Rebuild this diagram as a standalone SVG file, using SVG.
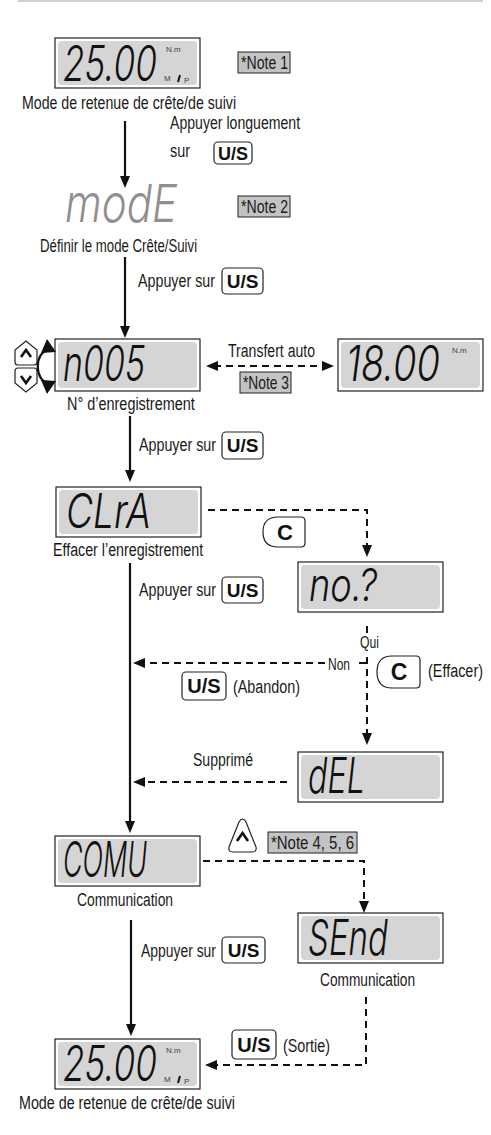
<svg xmlns="http://www.w3.org/2000/svg" width="491" height="1135" viewBox="0 0 491 1135">
<defs>
<style>
.lbl{font-family:"Liberation Sans Narrow","Liberation Sans",Arial,sans-serif;font-size:19px;fill:#1a1a1a}
.sm{font-size:17px}
.lcdo{fill:#fff;stroke:#222;stroke-width:1.2}
.lcdi{fill:#d5d5d5;stroke:none}
.seg{font-family:Inter,"Liberation Sans",Arial,sans-serif;font-style:italic;font-weight:300;fill:#111}
.small{font-family:"Liberation Sans",Arial,sans-serif;font-size:8px;fill:#444}
.note{fill:#c3c3c3;stroke:#222;stroke-width:1}
.btn{fill:#fff;stroke:#222;stroke-width:1.2}
.btxt{font-family:"Liberation Sans",Arial,sans-serif;font-weight:bold;fill:#111;text-anchor:middle}
.solid{fill:none;stroke:#111;stroke-width:2.2}
.dash{fill:none;stroke:#111;stroke-width:2;stroke-dasharray:7 5}
.chev{fill:none;stroke:#111;stroke-width:2.6;stroke-linejoin:miter}
</style>
<marker id="ah" viewBox="0 0 12 10" refX="4" refY="5" markerWidth="12" markerHeight="10" markerUnits="userSpaceOnUse" orient="auto-start-reverse">
<path d="M0,0 L12,5 L0,10 Z" fill="#111"/>
</marker>
</defs>

<line x1="18" y1="1" x2="483" y2="1" stroke="#cfcfcf" stroke-width="2"/>

<!-- Node 1: peak hold display -->
<g id="n-peak1">
<rect class="lcdo" x="55" y="38" width="145" height="50"/>
<rect class="lcdi" x="58" y="41" width="139" height="44" rx="4"/>
<text class="seg" transform="translate(63,81) scale(1,1.42)" font-size="35" textLength="94" lengthAdjust="spacingAndGlyphs">25.00</text>
<text class="small" x="166" y="52">N.m</text>
<text class="small" x="164" y="81" font-size="7">M</text>
<line x1="178" y1="82" x2="180" y2="75" stroke="#111" stroke-width="2"/>
<text class="small" x="184" y="83">P</text>
<text class="lbl" transform="translate(22,109) scale(0.77,1)" textLength="278" lengthAdjust="spacingAndGlyphs">Mode de retenue de crête/de suivi</text>
</g>
<g id="note1">
<rect class="note" x="238" y="52" width="52" height="21"/>
<text class="lbl" transform="translate(241,69) scale(0.77,1)" textLength="61" lengthAdjust="spacingAndGlyphs">*Note 1</text>
</g>

<!-- Node 2: modE -->
<g id="n-mode">
<text class="seg" transform="translate(65,222) scale(1,1.25)" font-size="42" style="fill:#8f8f8f" textLength="112" lengthAdjust="spacingAndGlyphs">modE</text>
<text class="lbl" transform="translate(40,252) scale(0.77,1)" textLength="204" lengthAdjust="spacingAndGlyphs">Définir le mode Crête/Suivi</text>
</g>
<g id="note2">
<rect class="note" x="238" y="196" width="52" height="21"/>
<text class="lbl" transform="translate(241,213) scale(0.77,1)" textLength="61" lengthAdjust="spacingAndGlyphs">*Note 2</text>
</g>

<!-- Node 3: record number -->
<g id="n-rec">
<rect class="lcdo" x="55" y="339" width="145" height="52"/>
<rect class="lcdi" x="58" y="342" width="139" height="46" rx="4"/>
<text class="seg" transform="translate(63,381) scale(1,1.42)" font-size="35" textLength="82" lengthAdjust="spacingAndGlyphs">n005</text>
<text class="lbl" transform="translate(67,410) scale(0.77,1)" textLength="166" lengthAdjust="spacingAndGlyphs">N° d’enregistrement</text>
</g>
<g id="updown">
<path class="btn" d="M18,365 H34 Q37,365 37,362 V350 L26,341 L15,350 V362 Q15,365 18,365 Z"/>
<polyline class="chev" points="21,357 26,350 31,357"/>
<path class="btn" d="M18,368 H34 Q37,368 37,371 V383 L26,392 L15,383 V371 Q15,368 18,368 Z"/>
<polyline class="chev" points="21,376 26,383 31,376"/>
<path d="M49,350 C34,351 34,382 49,383" fill="none" stroke="#111" stroke-width="2.2"/>
<polygon points="47,339 56,352 41,353" fill="#111"/>
<polygon points="47,394 56,381 41,380" fill="#111"/>
</g>
<g id="n-value">
<rect class="lcdo" x="338" y="339" width="145" height="52"/>
<rect class="lcdi" x="341" y="342" width="139" height="46" rx="4"/>
<text class="seg" transform="translate(346,381) scale(1,1.42)" font-size="35" textLength="94" lengthAdjust="spacingAndGlyphs">18.00</text>
<text class="small" x="452" y="353">N.m</text>
</g>
<g id="note3">
<rect class="note" x="240" y="372" width="51" height="21"/>
<text class="lbl" transform="translate(243,389) scale(0.77,1)" textLength="59.7" lengthAdjust="spacingAndGlyphs">*Note 3</text>
</g>

<!-- Node 4: CLrA -->
<g id="n-clra">
<rect class="lcdo" x="56" y="487" width="145" height="50"/>
<rect class="lcdi" x="59" y="490" width="139" height="44" rx="4"/>
<text class="seg" transform="translate(66,528) scale(1,1.375)" font-size="35" textLength="85" lengthAdjust="spacingAndGlyphs">CLrA</text>
<text class="lbl" transform="translate(53,556) scale(0.77,1)" textLength="195" lengthAdjust="spacingAndGlyphs">Effacer l’enregistrement</text>
</g>

<!-- Node 5: no.? -->
<g id="n-no">
<rect class="lcdo" x="298" y="562" width="145" height="50"/>
<rect class="lcdi" x="301" y="565" width="139" height="44" rx="4"/>
<text class="seg" transform="translate(309,601) scale(1,1.3)" font-size="35" textLength="68" lengthAdjust="spacingAndGlyphs">no.?</text>
</g>

<!-- Node 6: dEL -->
<g id="n-del">
<rect class="lcdo" x="298" y="752" width="145" height="50"/>
<rect class="lcdi" x="301" y="755" width="139" height="44" rx="4"/>
<text class="seg" transform="translate(308,793) scale(1,1.4)" font-size="35" textLength="57" lengthAdjust="spacingAndGlyphs">dEL</text>
</g>

<!-- Node 7: COMU -->
<g id="n-comu">
<rect class="lcdo" x="55" y="836" width="145" height="50"/>
<rect class="lcdi" x="58" y="839" width="139" height="44" rx="4"/>
<text class="seg" transform="translate(63,877) scale(1,1.42)" font-size="35" textLength="84" lengthAdjust="spacingAndGlyphs">COMU</text>
<text class="lbl" transform="translate(77,906) scale(0.77,1)" textLength="124.7" lengthAdjust="spacingAndGlyphs">Communication</text>
</g>
<g id="up-btn">
<path class="btn" d="M233,852 H252 Q257,852 256,847 L246,822 Q242.5,816 239,822 L229,847 Q228,852 233,852 Z"/>
<polyline class="chev" points="237,841 242.5,833 248,841"/>
</g>
<g id="note456">
<rect class="note" x="268" y="832" width="89" height="21"/>
<text class="lbl" transform="translate(271,849) scale(0.77,1)" textLength="107.8" lengthAdjust="spacingAndGlyphs">*Note 4, 5, 6</text>
</g>

<!-- Node 8: SEnd -->
<g id="n-send">
<rect class="lcdo" x="298" y="913" width="145" height="50"/>
<rect class="lcdi" x="301" y="916" width="139" height="44" rx="4"/>
<text class="seg" transform="translate(308,955) scale(1,1.42)" font-size="35" textLength="80" lengthAdjust="spacingAndGlyphs">SEnd</text>
<text class="lbl" transform="translate(320,986) scale(0.77,1)" textLength="123.4" lengthAdjust="spacingAndGlyphs">Communication</text>
</g>

<!-- Node 9: peak hold display (return) -->
<g id="n-peak2">
<rect class="lcdo" x="55" y="1039" width="145" height="50"/>
<rect class="lcdi" x="58" y="1042" width="139" height="44" rx="4"/>
<text class="seg" transform="translate(63,1081) scale(1,1.42)" font-size="35" textLength="94" lengthAdjust="spacingAndGlyphs">25.00</text>
<text class="small" x="166" y="1053">N.m</text>
<text class="small" x="164" y="1082" font-size="7">M</text>
<line x1="178" y1="1083" x2="180" y2="1076" stroke="#111" stroke-width="2"/>
<text class="small" x="184" y="1084">P</text>
<text class="lbl" transform="translate(19,1109) scale(0.77,1)" textLength="280.5" lengthAdjust="spacingAndGlyphs">Mode de retenue de crête/de suivi</text>
</g>

<!-- Connectors -->
<g id="connectors">
<path class="solid" d="M125,121 V180" marker-end="url(#ah)"/>
<path class="solid" d="M125,257 V330" marker-end="url(#ah)"/>
<path class="dash" d="M214,366 H326" marker-start="url(#ah)" marker-end="url(#ah)"/>
<path class="solid" d="M130,416 V474" marker-end="url(#ah)"/>
<path class="dash" d="M208,510 H367 V549" marker-end="url(#ah)"/>
<path class="solid" d="M130,563 V825" marker-end="url(#ah)"/>
<path class="dash" d="M367,626 V634 M367,657 V737" marker-end="url(#ah)"/>
<path class="dash" d="M359,663 H367"/>
<path class="dash" d="M325,663 H141" marker-end="url(#ah)"/>
<path class="dash" d="M287,782 H141" marker-end="url(#ah)"/>
<path class="dash" d="M203,861 H364 V905" marker-end="url(#ah)"/>
<path class="solid" d="M131,920 V1028" marker-end="url(#ah)"/>
<path class="dash" d="M366,997 V1065 H213" marker-end="url(#ah)"/>
</g>

<!-- Connector labels -->
<g id="labels">
<text class="lbl" transform="translate(170,129) scale(0.77,1)" textLength="169" lengthAdjust="spacingAndGlyphs">Appuyer longuement</text>
<text class="lbl" transform="translate(170,157) scale(0.77,1)" textLength="26" lengthAdjust="spacingAndGlyphs">sur</text>
<rect class="btn" x="214" y="142" width="38" height="22" rx="4"/>
<text class="btxt" x="233" y="159.5" font-size="18">U/S</text>

<text class="lbl" transform="translate(138,287) scale(0.77,1)" textLength="100" lengthAdjust="spacingAndGlyphs">Appuyer sur</text>
<rect class="btn" x="222" y="268" width="41" height="26" rx="4"/>
<text class="btxt" x="242.5" y="288" font-size="19">U/S</text>

<text class="lbl" transform="translate(228,357) scale(0.77,1)" textLength="113" lengthAdjust="spacingAndGlyphs">Transfert auto</text>

<text class="lbl" transform="translate(139,451) scale(0.77,1)" textLength="100" lengthAdjust="spacingAndGlyphs">Appuyer sur</text>
<rect class="btn" x="222" y="432" width="41" height="27" rx="4"/>
<text class="btxt" x="242.5" y="452" font-size="19">U/S</text>

<path class="btn" d="M278,517 H301 Q305,517 305,521 V543 Q305,547 301,547 H278 Q263,547 263,532 Q263,517 278,517 Z"/>
<text class="btxt" x="285" y="540" font-size="22">C</text>

<text class="lbl" transform="translate(139,596) scale(0.77,1)" textLength="100" lengthAdjust="spacingAndGlyphs">Appuyer sur</text>
<rect class="btn" x="222" y="577" width="41" height="26" rx="4"/>
<text class="btxt" x="242.5" y="597" font-size="19">U/S</text>

<text class="lbl sm" transform="translate(360,648) scale(0.77,1)" textLength="24.7" lengthAdjust="spacingAndGlyphs">Qui</text>
<text class="lbl sm" transform="translate(328,670) scale(0.77,1)" textLength="28.6" lengthAdjust="spacingAndGlyphs">Non</text>

<rect class="btn" x="182" y="672" width="44" height="28" rx="4"/>
<text class="btxt" x="204" y="693" font-size="20">U/S</text>
<text class="lbl" transform="translate(233,693) scale(0.77,1)" textLength="87" lengthAdjust="spacingAndGlyphs">(Abandon)</text>

<path class="btn" d="M392,656 H416 Q420,656 420,660 V684 Q420,688 416,688 H392 Q377,688 377,672 Q377,656 392,656 Z"/>
<text class="btxt" x="399" y="680" font-size="23">C</text>
<text class="lbl" transform="translate(428,677) scale(0.77,1)" textLength="71.4" lengthAdjust="spacingAndGlyphs">(Effacer)</text>

<text class="lbl" transform="translate(193,766) scale(0.77,1)" textLength="78" lengthAdjust="spacingAndGlyphs">Supprimé</text>

<text class="lbl" transform="translate(141,957) scale(0.77,1)" textLength="97.4" lengthAdjust="spacingAndGlyphs">Appuyer sur</text>
<rect class="btn" x="222" y="937" width="43" height="26" rx="4"/>
<text class="btxt" x="243.5" y="957" font-size="19">U/S</text>

<rect class="btn" x="232" y="1030" width="44" height="29" rx="4"/>
<text class="btxt" x="254" y="1052" font-size="20">U/S</text>
<text class="lbl" transform="translate(283,1052) scale(0.77,1)" textLength="61" lengthAdjust="spacingAndGlyphs">(Sortie)</text>
</g>
</svg>
